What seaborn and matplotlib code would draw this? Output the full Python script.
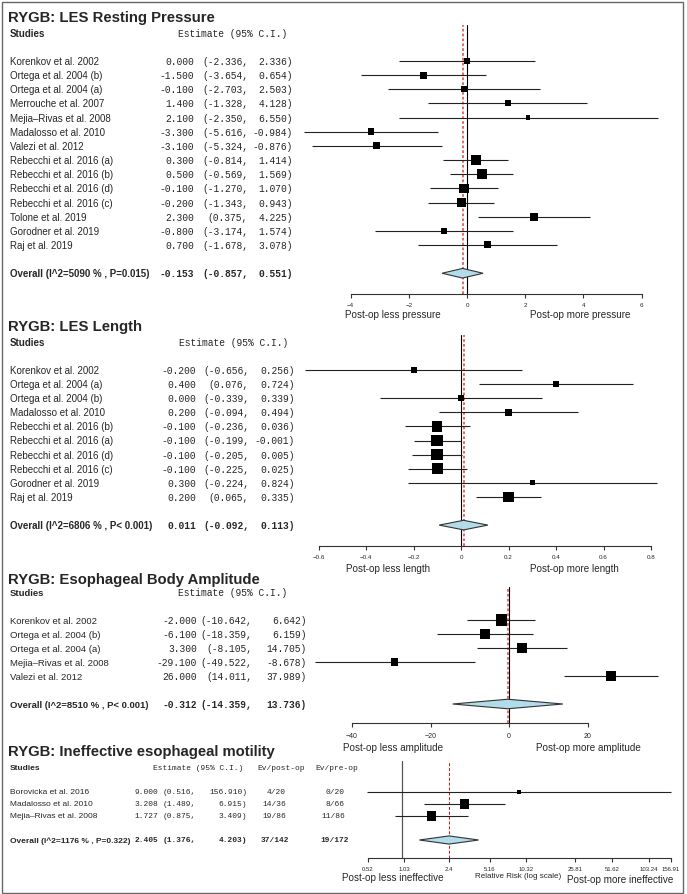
import matplotlib
matplotlib.use("Agg")
import matplotlib.pyplot as plt
import matplotlib.transforms as mtransforms
from matplotlib.patches import Rectangle
import seaborn as sns
import numpy as np
import pandas as pd

# ---- data -------------------------------------------------------------
pres_studies = ["Korenkov et al. 2002", "Ortega et al. 2004 (b)", "Ortega et al. 2004 (a)",
                "Merrouche et al. 2007", "Mejia\u2013Rivas et al. 2008", "Madalosso et al. 2010",
                "Valezi et al. 2012", "Rebecchi et al. 2016 (a)", "Rebecchi et al. 2016 (b)",
                "Rebecchi et al. 2016 (d)", "Rebecchi et al. 2016 (c)", "Tolone et al. 2019",
                "Gorodner et al. 2019", "Raj et al. 2019"]
pres_est = [0.000, -1.500, -0.100, 1.400, 2.100, -3.300, -3.100, 0.300, 0.500, -0.100, -0.200, 2.300, -0.800, 0.700]
pres_lo = [-2.336, -3.654, -2.703, -1.328, -2.350, -5.616, -5.324, -0.814, -0.569, -1.270, -1.343, 0.375, -3.174, -1.678]
pres_hi = [2.336, 0.654, 2.503, 4.128, 6.550, -0.984, -0.876, 1.414, 1.569, 1.070, 0.943, 4.225, 1.574, 3.078]
pres_box = [6.7, 7.0, 6.0, 6.0, 4.7, 6.7, 7.0, 10.0, 10.0, 9.3, 9.3, 7.7, 6.0, 7.0]
pres_overall = (-0.153, -0.857, 0.551)
pres_overall_label = "Overall (I^2=5090 % , P=0.015)"
pres_ticks = [-4, -2, 0, 2, 4, 6]
pres_ticklabels = ["\u22124", "\u22122", "0", "2", "4", "6"]

len_studies = ["Korenkov et al. 2002", "Ortega et al. 2004 (a)", "Ortega et al. 2004 (b)",
               "Madalosso et al. 2010", "Rebecchi et al. 2016 (b)", "Rebecchi et al. 2016 (a)",
               "Rebecchi et al. 2016 (d)", "Rebecchi et al. 2016 (c)", "Gorodner et al. 2019",
               "Raj et al. 2019"]
len_est = [-0.200, 0.400, 0.000, 0.200, -0.100, -0.100, -0.100, -0.100, 0.300, 0.200]
len_lo = [-0.656, 0.076, -0.339, -0.094, -0.236, -0.199, -0.205, -0.225, -0.224, 0.065]
len_hi = [0.256, 0.724, 0.339, 0.494, 0.036, -0.001, 0.005, 0.025, 0.824, 0.335]
len_box = [6.0, 6.3, 6.3, 6.7, 10.3, 11.7, 11.7, 10.7, 5.3, 10.3]
len_overall = (0.011, -0.092, 0.113)
len_overall_label = "Overall (I^2=6806 % , P< 0.001)"
len_ticks = [-0.6, -0.4, -0.2, 0, 0.2, 0.4, 0.6, 0.8]
len_ticklabels = ["\u22120.6", "\u22120.4", "\u22120.2", "0", "0.2", "0.4", "0.6", "0.8"]

amp_studies = ["Korenkov et al. 2002", "Ortega et al. 2004 (b)", "Ortega et al. 2004 (a)",
               "Mejia\u2013Rivas et al. 2008", "Valezi et al. 2012"]
amp_est = [-2.000, -6.100, 3.300, -29.100, 26.000]
amp_lo = [-10.642, -18.359, -8.105, -49.522, 14.011]
amp_hi = [6.642, 6.159, 14.705, -8.678, 37.989]
amp_box = [11.3, 9.7, 10.0, 7.3, 10.0]
amp_overall = (-0.312, -14.359, 13.736)
amp_overall_label = "Overall (I^2=8510 % , P< 0.001)"
amp_ticks = [-40, -20, 0, 20]
amp_ticklabels = ["\u221240", "\u221220", "0", "20"]

iem_studies = ["Borovicka et al. 2016", "Madalosso et al. 2010", "Mejia\u2013Rivas et al. 2008"]
iem_est = [9.000, 3.208, 1.727]
iem_lo = [0.516, 1.489, 0.875]
iem_hi = [156.910, 6.915, 3.409]
iem_box = [4.7, 9.3, 9.3]
iem_ev_post = ["4/20", "14/36", "19/86"]
iem_ev_pre = ["0/20", "8/66", "11/86"]
iem_overall = (2.405, 1.376, 4.203)
iem_overall_ev = ("37/142", "19/172")
iem_overall_label = "Overall (I^2=1176 % , P=0.322)"
iem_ticks = [0.52, 1.03, 2.4, 5.16, 10.32, 25.81, 51.62, 103.24, 156.91]
iem_ticklabels = ["0.52", "1.03", "2.4", "5.16", "10.32", "25.81", "51.62", "103.24", "156.91"]

# ---- figure -----------------------------------------------------------
W, H = 687, 894
sns.set_theme(style="white")
plt.rcParams["font.family"] = ["Liberation Sans", "DejaVu Sans"]
MONO = ["Liberation Mono", "DejaVu Sans Mono"]

fig = plt.figure(figsize=(W / 100, H / 100), dpi=100)


def fx(px):
    return px / W


def fy(py):
    return 1 - py / H


def fmt(v):
    return f"{v:.3f}"


def forest(title, title_y, studies, est, lo, hi, box, overall, overall_label,
           ticks, ticklabels, row0, sp, top, bottom, xmap, cols, header_x,
           side_labels, mono_size, sans_size, tick_size, tick_pad,
           log=False, ref=0, ev=None):
    n = len(studies)
    left_px, right_px = 300, 680
    ax = fig.add_axes([fx(left_px), fy(bottom), (right_px - left_px) / W, (bottom - top) / H])
    ax.patch.set_alpha(0)

    df = pd.DataFrame({"study": studies, "est": est, "lo": lo, "hi": hi,
                       "row": np.arange(n), "box": box})

    if log:
        p0, v0, ppu = xmap
        ax.set_xscale("log")
        ax.set_xlim(v0 * np.exp((left_px - p0) / ppu), v0 * np.exp((right_px - p0) / ppu))
    else:
        zero_px, ppu = xmap
        ax.set_xlim((left_px - zero_px) / ppu, (right_px - zero_px) / ppu)

    # reference lines
    if log:
        ax.axvline(ref, color="#555555", lw=0.9, zorder=1)
        ax.axvline(overall[0], color="red", lw=0.7, dashes=(3, 2), zorder=1)
    else:
        ax.axvline(ref, color="black", lw=0.8, zorder=1)
        ax.axvline(overall[0], color="#e06a6a", lw=1.4, dashes=(1.4, 1.1), zorder=1)

    # confidence intervals and weighted boxes
    ax.hlines(df["row"], df["lo"], df["hi"], color="#222222", lw=0.8, zorder=2)
    sns.scatterplot(data=df, x="est", y="row", marker="s", s=(df["box"].to_numpy() * 0.72) ** 2,
                    color="black", linewidth=0, legend=False, ax=ax, zorder=3)

    # overall diamond
    oy = n + 1
    h = 0.34
    ax.fill([overall[1], overall[0], overall[2], overall[0]], [oy, oy - h, oy, oy + h],
            facecolor="#b3dcea", edgecolor="#333333", lw=0.8, zorder=4)

    ax.set_ylim((bottom - row0) / sp, (top - row0) / sp)
    ax.set_xlabel("")
    ax.set_ylabel("")
    for s in ["top", "left", "right"]:
        ax.spines[s].set_visible(False)
    ax.spines["bottom"].set_color("#333333")
    ax.spines["bottom"].set_linewidth(0.8)
    ax.spines["bottom"].set_bounds(ticks[0], ticks[-1])
    ax.set_yticks([])
    ax.set_xticks(ticks)
    ax.set_xticklabels(ticklabels)
    ax.xaxis.set_minor_locator(matplotlib.ticker.NullLocator())
    ax.tick_params(axis="x", bottom=True, direction="out", length=3, width=0.8,
                   color="#333333", labelsize=tick_size, pad=tick_pad)

    # text table
    tr = mtransforms.blended_transform_factory(fig.transFigure, ax.transData)
    fig.text(fx(8), fy(title_y), title, fontsize=10.7, fontweight="bold", va="baseline")
    ax.text(fx(10), -2, "Studies", transform=tr, fontsize=sans_size, fontweight="bold",
            va="center_baseline")
    ax.text(fx(header_x), -2, "Estimate (95% C.I.)", transform=tr, family=MONO,
            fontsize=mono_size, va="center_baseline")
    c_est, c_lo, c_hi = cols

    def row_text(y, name, e, l, u, bold):
        w = "bold" if bold else "normal"
        ax.text(fx(10), y, name, transform=tr, fontsize=sans_size, fontweight=w,
                va="center_baseline")
        for xpx, s in [(c_est, fmt(e)), (c_lo, "(" + fmt(l) + ","), (c_hi, fmt(u) + ")")]:
            ax.text(fx(xpx), y, s, transform=tr, family=MONO, fontsize=mono_size,
                    fontweight=w, ha="right", va="center_baseline")

    for i in range(n):
        row_text(i, studies[i], est[i], lo[i], hi[i], False)
    row_text(oy, overall_label, overall[0], overall[1], overall[2], True)

    if ev is not None:
        (hx_post, rx_post), (hx_pre, rx_pre), post, pre, tot = ev
        ax.text(fx(hx_post), -2, "Ev/post-op", transform=tr, family=MONO,
                fontsize=mono_size, va="center_baseline")
        ax.text(fx(hx_pre), -2, "Ev/pre-op", transform=tr, family=MONO,
                fontsize=mono_size, va="center_baseline")
        for i in range(n):
            ax.text(fx(rx_post), i, post[i], transform=tr, family=MONO, fontsize=mono_size,
                    ha="right", va="center_baseline")
            ax.text(fx(rx_pre), i, pre[i], transform=tr, family=MONO, fontsize=mono_size,
                    ha="right", va="center_baseline")
        ax.text(fx(rx_post + 3), oy, tot[0], transform=tr, family=MONO, fontsize=mono_size,
                fontweight="bold", ha="right", va="center_baseline")
        ax.text(fx(rx_pre + 4), oy, tot[1], transform=tr, family=MONO, fontsize=mono_size,
                fontweight="bold", ha="right", va="center_baseline")

    for txt, xpx, ypx, size in side_labels:
        fig.text(fx(xpx), fy(ypx), txt, fontsize=size, ha="center", va="center")
    return ax


forest("RYGB: LES Resting Pressure", 22, pres_studies, pres_est, pres_lo, pres_hi, pres_box,
       pres_overall, pres_overall_label, pres_ticks, pres_ticklabels,
       row0=61, sp=14.15, top=25, bottom=294, xmap=(467, 29.1),
       cols=(194, 248, 293), header_x=178,
       side_labels=[("Post-op less pressure", 393, 315, 7.1), ("Post-op more pressure", 580, 315, 7.1)],
       mono_size=6.9, sans_size=7.0, tick_size=4.5, tick_pad=3.5)

forest("RYGB: LES Length", 331, len_studies, len_est, len_lo, len_hi, len_box,
       len_overall, len_overall_label, len_ticks, len_ticklabels,
       row0=370, sp=14.1, top=335, bottom=546, xmap=(461, 237.5),
       cols=(196, 249, 295), header_x=179,
       side_labels=[("Post-op less length", 388, 569, 7.1), ("Post-op more length", 574, 569, 7.1)],
       mono_size=6.9, sans_size=7.0, tick_size=4.5, tick_pad=3.5)

forest("RYGB: Esophageal Body Amplitude", 584, amp_studies, amp_est, amp_lo, amp_hi, amp_box,
       amp_overall, amp_overall_label, amp_ticks, amp_ticklabels,
       row0=620, sp=14.0, top=587, bottom=723, xmap=(509, 3.925),
       cols=(197, 252, 307), header_x=178,
       side_labels=[("Post-op less amplitude", 393, 748, 7.1), ("Post-op more amplitude", 588, 748, 7.1)],
       mono_size=6.9, sans_size=6.8, tick_size=5, tick_pad=4)

forest("RYGB: Ineffective esophageal motility", 756, iem_studies, iem_est, iem_lo, iem_hi, iem_box,
       iem_overall, iem_overall_label, iem_ticks, iem_ticklabels,
       row0=792, sp=12.0, top=761, bottom=858, xmap=(367.7, 0.52, 53.1),
       cols=(158, 196, 247), header_x=153,
       side_labels=[("Post-op less ineffective", 393, 878, 7.1),
                    ("Relative Risk (log scale)", 518, 877, 5.8),
                    ("Post-op more ineffective", 620, 880, 7.1)],
       mono_size=5.7, sans_size=6.0, tick_size=4.3, tick_pad=3.5,
       log=True, ref=1, ev=((257, 286), (315, 345), iem_ev_post, iem_ev_pre, iem_overall_ev))

fig.patches.append(Rectangle((fx(1.5), fy(893)), (683 - 1.5) / W, (893 - 1.5) / H,
                             transform=fig.transFigure, fill=False, edgecolor="#666666", lw=1))

fig.savefig("out.png", dpi=100)
